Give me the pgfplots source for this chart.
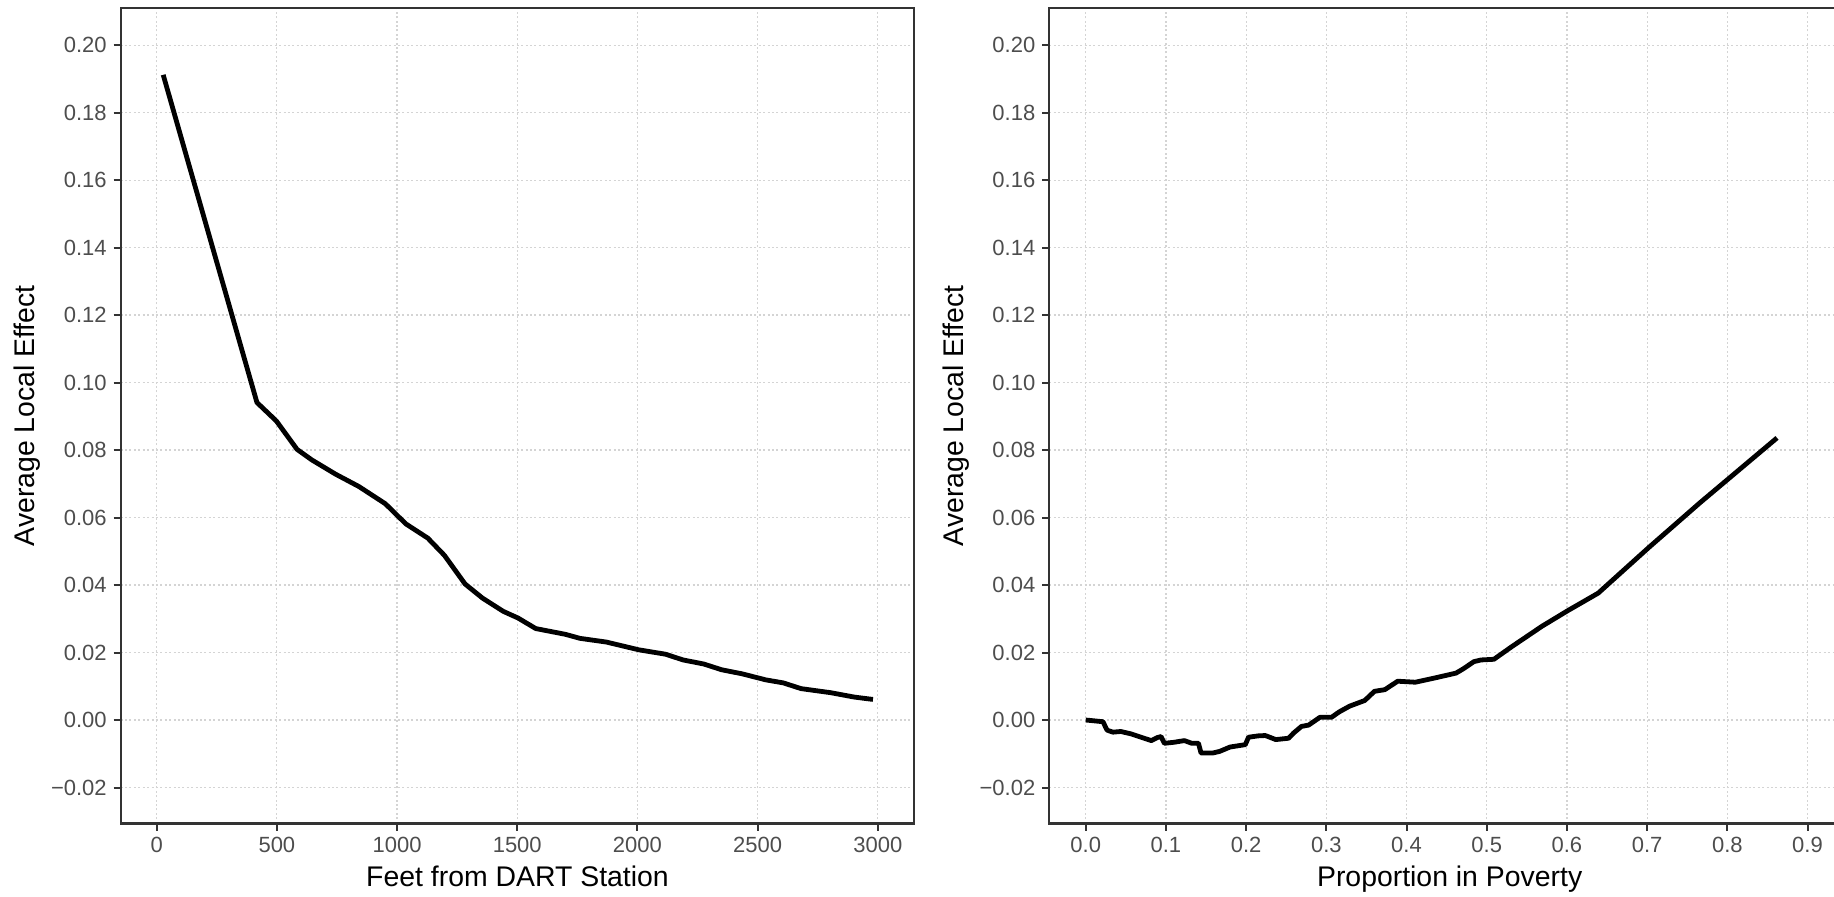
\documentclass[border=0pt]{standalone}
\usepackage{fontspec}
\setmainfont{Liberation Sans}
\usepackage{pgfplots}
\pgfplotsset{compat=1.18}
\definecolor{frame}{HTML}{333333}
\definecolor{ticktxt}{HTML}{4D4D4D}
\definecolor{gridc}{HTML}{D4D4D4}
\pgfplotsset{
  aleplot/.style={
    scale only axis,
    height=407.75pt,
    anchor=south west,
    ymin=-0.03067, ymax=0.2110,
    ytick={-0.02,0,0.02,0.04,0.06,0.08,0.10,0.12,0.14,0.16,0.18,0.20},
    yticklabels={−0.02,0.00,0.02,0.04,0.06,0.08,0.10,0.12,0.14,0.16,0.18,0.20},
    tick align=outside,
    tick pos=left,
    major tick length=3.5pt,
    tick style={draw=frame, line width=1pt},
    axis line style={draw=frame, line width=1.1pt},
    grid=major,
    major grid style={line width=0.6pt, draw=gridc, dash pattern=on 1pt off 1.2pt},
    ticklabel style={font=\fontsize{11}{13}\selectfont, text=ticktxt, inner sep=3.3pt},
    every axis x label/.style={at={(rel axis cs:0.5,0)}, yshift=-31.6pt, anchor=base, font=\fontsize{14.2}{17}\selectfont, text=black},
    every axis y label/.style={at={(rel axis cs:0,0.5)}, xshift=-42.85pt, rotate=90, anchor=base, font=\fontsize{14.2}{17}\selectfont, text=black},
    ylabel={Average Local Effect},
  },
  aleline/.style={black, line width=2.4pt, line join=round, line cap=butt, mark=none},
}
\begin{document}
\begin{tikzpicture}
\useasboundingbox (0,0) rectangle (917pt,448pt);
\clip (0,0) rectangle (917pt,448pt);
\begin{axis}[aleplot,
  at={(60.35pt,36.25pt)},
  width=396.8pt,
  xmin=-149.8, xmax=3152,
  xtick={0,500,1000,1500,2000,2500,3000},
  xticklabels={0,500,1000,1500,2000,2500,3000},
  xlabel={Feet from DART Station},
]
\addplot[aleline] coordinates {
(27,0.1912) (417,0.0941) (498,0.0886) (584,0.0802) (645,0.0771) (743,0.0729)
(841,0.0692) (951,0.0641) (1037,0.0581) (1128,0.0539) (1197,0.0488) (1283,0.0403)
(1356,0.0361) (1442,0.0322) (1504,0.0302) (1577,0.0271) (1700,0.0254) (1761,0.0242)
(1871,0.0231) (2006,0.0208) (2117,0.0195) (2190,0.0178) (2276,0.0166) (2350,0.0149)
(2435,0.0137) (2534,0.0119) (2607,0.0110) (2681,0.0093) (2804,0.0081) (2902,0.0068)
(2980,0.0061)
};
\end{axis}
\begin{axis}[aleplot,
  at={(524.65pt,36.25pt)},
  width=400.35pt,
  xmin=-0.0454, xmax=0.953,
  xtick={0,0.1,0.2,0.3,0.4,0.5,0.6,0.7,0.8,0.9},
  xticklabels={0.0,0.1,0.2,0.3,0.4,0.5,0.6,0.7,0.8,0.9},
  xlabel={Proportion in Poverty},
]
\addplot[aleline] coordinates {
(0.000,0.0000) (0.0215,-0.0005) (0.0266,-0.0030) (0.034,-0.0036) (0.0437,-0.0034)
(0.0564,-0.0041) (0.069,-0.0051) (0.0817,-0.0061) (0.0893,-0.0052) (0.094,-0.0049)
(0.098,-0.0069) (0.110,-0.0066) (0.123,-0.0061) (0.1323,-0.0069) (0.1406,-0.0069)
(0.1438,-0.0098) (0.158,-0.0098) (0.167,-0.0093) (0.180,-0.0080) (0.199,-0.0073)
(0.203,-0.0051) (0.215,-0.0047) (0.224,-0.0046) (0.237,-0.0058) (0.253,-0.0054)
(0.259,-0.0039) (0.269,-0.0019) (0.278,-0.0015) (0.292,0.0008) (0.3065,0.0008)
(0.316,0.0024) (0.329,0.0041) (0.348,0.0058) (0.360,0.0085) (0.373,0.0090)
(0.389,0.0115) (0.411,0.0112) (0.436,0.0125) (0.4617,0.0139) (0.471,0.0152)
(0.484,0.0173) (0.493,0.0178) (0.509,0.0180) (0.531,0.0217) (0.569,0.0278)
(0.601,0.0324) (0.639,0.0376) (0.702,0.0511) (0.766,0.0644) (0.862,0.0836)
};
\end{axis}
\end{tikzpicture}
\end{document}
